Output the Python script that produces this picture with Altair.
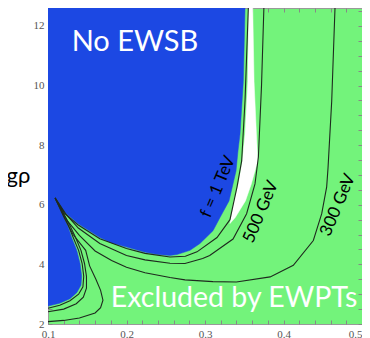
import altair as alt
import pandas as pd

BLUE = "#1c48e3"
GREEN = "#73f37b"

# Blue "No EWSB" region boundary (closed polygon, ordered)
BLUE_X = [0.1, 0.351, 0.3488, 0.3446, 0.342, 0.3395, 0.3306, 0.3191, 0.3102, 0.2936, 0.2809,
          0.2643, 0.2554, 0.24, 0.2236, 0.2, 0.181, 0.166, 0.138, 0.1217, 0.109,
          0.118, 0.125, 0.130, 0.1366, 0.1408, 0.1429, 0.142, 0.1366, 0.128, 0.115, 0.1]
BLUE_Y = [12.6, 12.6, 10.13, 8.37, 7.8, 7.13, 6.13, 5.57, 5.13, 4.7, 4.47,
          4.33, 4.3, 4.33, 4.41, 4.58, 4.72, 4.9, 5.37, 5.74, 6.23,
          5.7, 5.3, 4.91, 4.47, 4.03, 3.6, 3.3, 3.05, 2.85, 2.7, 2.6]

# White (allowed) sliver
WHITE_X = [0.3555, 0.3545, 0.351, 0.3475, 0.3425, 0.337, 0.3331, 0.3318, 0.3385, 0.3515, 0.359,
           0.3672, 0.3655, 0.3625, 0.3608]
WHITE_Y = [12.6, 10.13, 8.37, 7.47, 6.7, 6.13, 5.57, 5.37, 5.57, 6.13, 6.7,
           7.47, 8.37, 10.13, 12.6]

# Contour f = 1 TeV
TEV1_X = [0.1, 0.115, 0.128, 0.139, 0.1445, 0.1455, 0.1435, 0.139, 0.132, 0.126, 0.119, 0.109,
          0.121, 0.138, 0.166, 0.2, 0.2236, 0.2554, 0.275, 0.2898, 0.3153, 0.3318, 0.3408, 0.3467, 0.351, 0.3552]
TEV1_Y = [2.53, 2.63, 2.78, 3.0, 3.25, 3.6, 4.03, 4.47, 4.91, 5.3, 5.7, 6.23,
          5.72, 5.33, 4.86, 4.53, 4.37, 4.25, 4.27, 4.42, 4.9, 5.5, 6.6, 7.47, 9.5, 12.6]

# Contour f = 500 GeV
GEV500_X = [0.1, 0.12, 0.136, 0.145, 0.149, 0.149, 0.1465, 0.142, 0.135, 0.128, 0.12, 0.109,
            0.123, 0.1386, 0.166, 0.2, 0.2236, 0.2554, 0.2745, 0.297, 0.306, 0.3357, 0.353, 0.3637, 0.368, 0.372, 0.375]
GEV500_Y = [2.41, 2.5, 2.68, 2.9, 3.2, 3.6, 4.03, 4.47, 4.91, 5.3, 5.7, 6.23,
            5.68, 5.22, 4.7, 4.3, 4.15, 4.04, 4.03, 4.2, 4.3, 4.85, 5.7, 6.7, 7.6, 10.0, 12.6]

# Contour f = 300 GeV
GEV300_X = [0.1, 0.12, 0.14, 0.16, 0.167, 0.170, 0.167, 0.161, 0.153, 0.148, 0.132, 0.12, 0.109,
            0.125, 0.14, 0.16, 0.181, 0.2, 0.2236, 0.2554, 0.2745, 0.31, 0.34, 0.383, 0.4125, 0.438,
            0.4487, 0.455, 0.4567, 0.4614, 0.4656]
GEV300_Y = [2.08, 2.12, 2.2, 2.37, 2.55, 2.8, 3.13, 3.5, 3.95, 4.47, 5.0, 5.6, 6.23,
            5.45, 4.97, 4.45, 4.13, 3.9, 3.72, 3.56, 3.48, 3.42, 3.41, 3.58, 3.97, 4.8,
            5.7, 6.6, 7.23, 9.47, 12.6]

X_LABELS = [0.1, 0.2, 0.3, 0.4, 0.5]
Y_LABELS = [2, 4, 6, 8, 10, 12]
X_TICKS = [round(0.1 + 0.02 * i, 2) for i in range(21)]
Y_TICKS = [2 + 0.5 * i for i in range(22)]

def frame(xs, ys, name):
    return pd.DataFrame({"x": xs, "y": ys, "name": name, "ord": list(range(len(xs)))})

blue_df = frame(BLUE_X, BLUE_Y, "blue")
white_df = frame(WHITE_X, WHITE_Y, "white")
lines_df = pd.concat([frame(TEV1_X, TEV1_Y, "1TeV"), frame(GEV500_X, GEV500_Y, "500GeV"),
                      frame(GEV300_X, GEV300_Y, "300GeV")])

BIG_LABELS = pd.DataFrame({
    "x": [0.2108, 0.337],
    "y": [11.46, 2.87],
    "text": ["No EWSB", "Excluded by EWPTs"],
    "size": [29, 28.5],
})
ROT_LABELS = pd.DataFrame({
    "x": [0.3166, 0.3713, 0.4694],
    "y": [6.6, 5.76, 5.99],
    "text": ["f = 1 TeV", "500 GeV", "300 GeV"],
})

xscale = alt.Scale(domain=[0.1, 0.5], nice=False, zero=False)
yscale = alt.Scale(domain=[2, 12.6], nice=False, zero=False)

X = alt.X("x:Q", scale=xscale, axis=alt.Axis(
    values=X_LABELS, format=".1f", title=None, grid=False, domain=False, ticks=False,
    labelPadding=4, labelFont="Liberation Serif", labelFontSize=11, labelColor="#555",
    labelFlush=False, labelOverlap=False,
    labelAlign={"condition": {"test": "datum.value > 0.49", "value": "right"}, "value": "center"}))
Y = alt.Y("y:Q", scale=yscale, axis=alt.Axis(
    values=Y_LABELS, format="d", title="gρ", titleAngle=0, titleX=-30, titleY=167,
    titleAlign="center", titleBaseline="middle", titleFont="Lato", titleFontSize=22,
    titleFontWeight="normal", titleColor="#000", grid=False, domain=False, ticks=False,
    labelPadding=4, labelFont="Liberation Serif", labelFontSize=11, labelColor="#555",
    labelFlush=False, labelOverlap=False))

blue = alt.Chart(blue_df).mark_line(fill=BLUE, stroke=BLUE, strokeWidth=0.5).encode(
    x=X, y=Y, order="ord:Q")
white = alt.Chart(white_df).mark_line(fill="white", stroke="white", strokeWidth=0.5).encode(
    x="x:Q", y="y:Q", order="ord:Q")
lines = alt.Chart(lines_df).mark_line(stroke="#1e2a1e", strokeWidth=1.1).encode(
    x="x:Q", y="y:Q", detail="name:N", order="ord:Q")

big = alt.Chart(BIG_LABELS).mark_text(font="Lato", color="white").encode(
    x="x:Q", y="y:Q", text="text:N", size=alt.Size("size:Q", scale=None, legend=None))
rot = alt.Chart(ROT_LABELS).mark_text(font="Lato", fontSize=17, color="black", angle=293).encode(
    x="x:Q", y="y:Q", text="text:N")

main = alt.layer(blue, white, lines, big, rot)

def tick_layer(xorient, yorient):
    return alt.Chart(blue_df).mark_point(opacity=0).encode(
        x=alt.X("x:Q", scale=xscale, axis=alt.Axis(orient=xorient, values=X_TICKS, labels=False, title=None,
                grid=False, domain=False, tickSize=4, offset=-4, tickColor="#888")),
        y=alt.Y("y:Q", scale=yscale, axis=alt.Axis(orient=yorient, values=Y_TICKS, labels=False, title=None,
                grid=False, domain=False, tickSize=4, offset=-4, tickColor="#888")),
    )

chart = alt.layer(main, tick_layer("top", "right"), tick_layer("bottom", "left")).resolve_scale(
    x="independent", y="independent").properties(
    width=314, height=316,
    autosize=alt.AutoSizeParams(type="none"),
    padding={"left": 40, "top": 0, "right": 0, "bottom": 14},
).configure_view(fill=GREEN, stroke="#999", strokeWidth=1)

chart.save("out.html", embed_options={"renderer": "svg", "actions": False})
